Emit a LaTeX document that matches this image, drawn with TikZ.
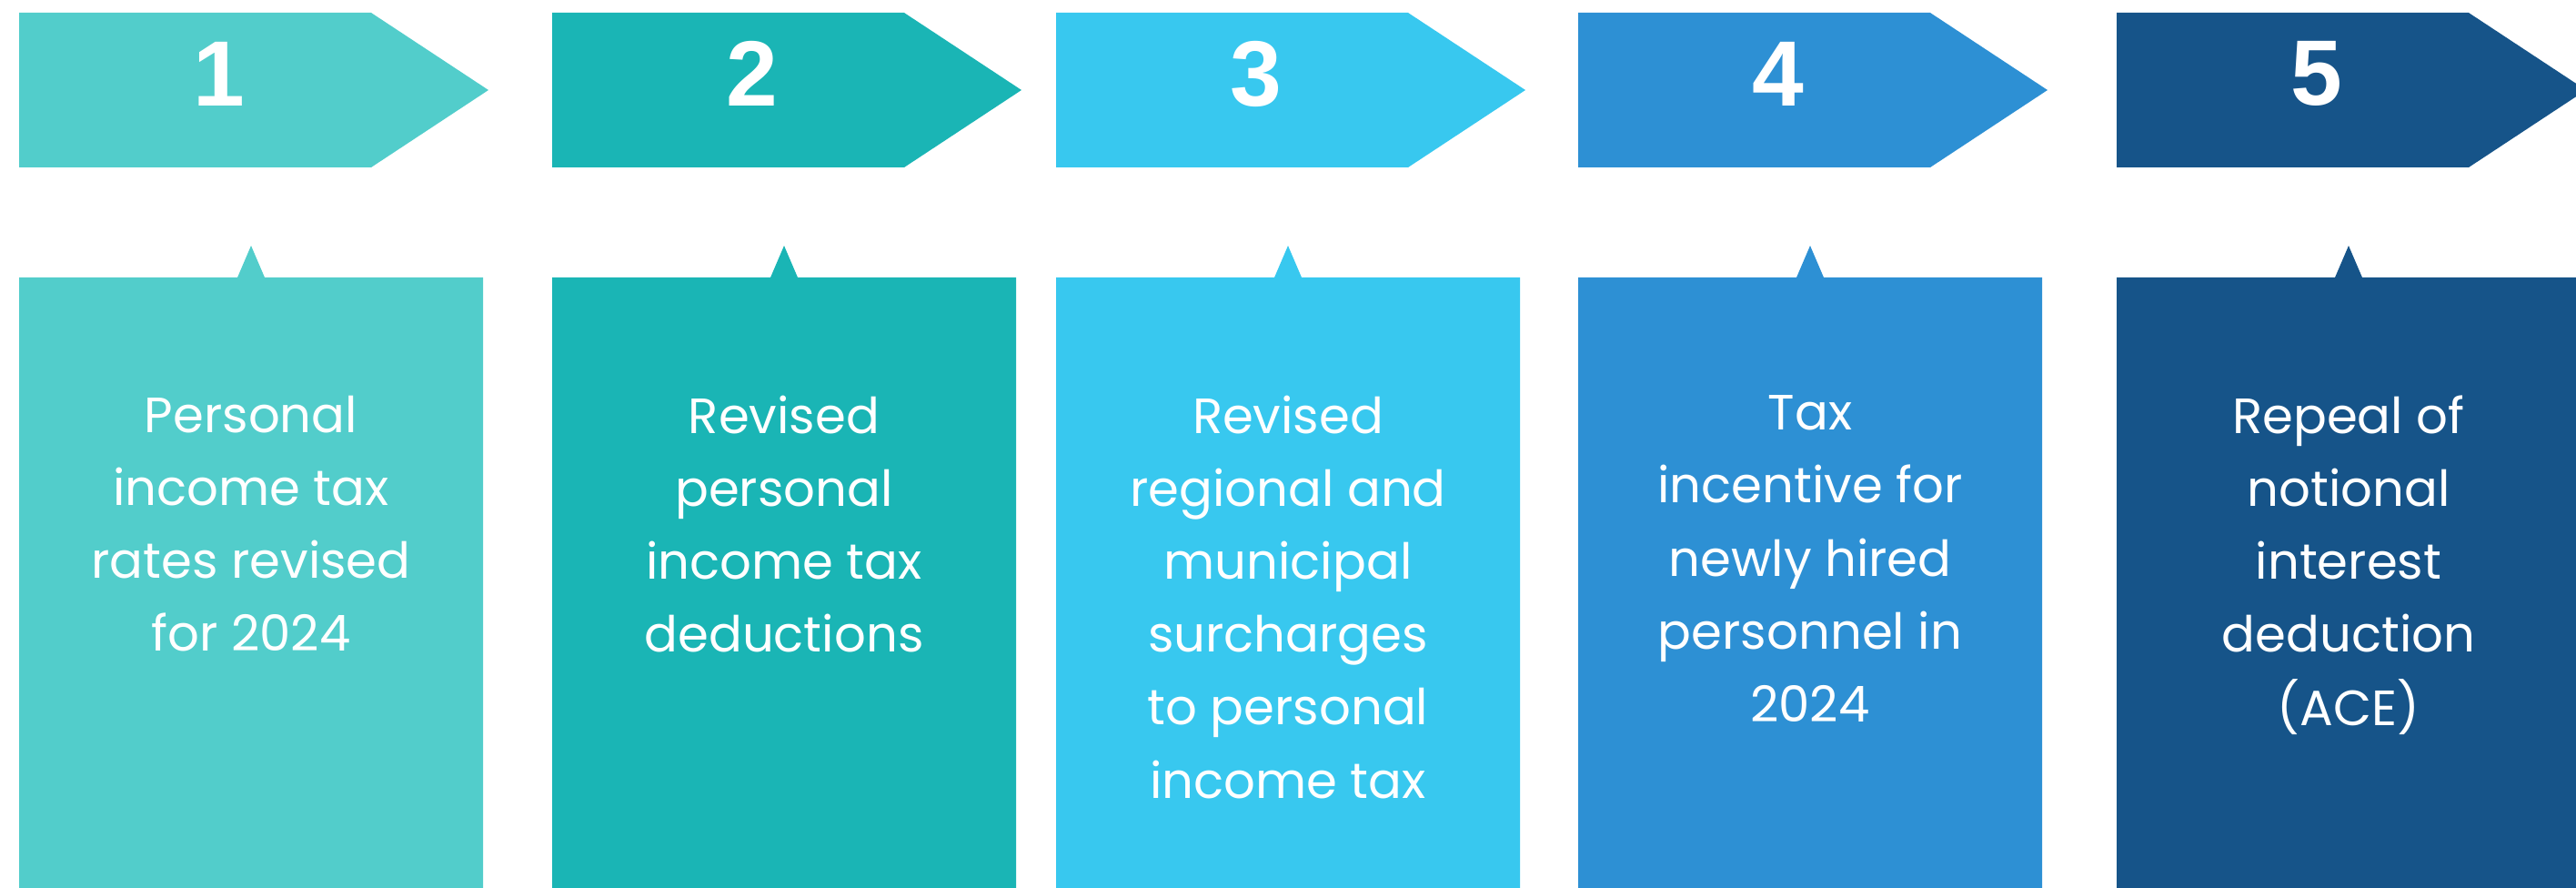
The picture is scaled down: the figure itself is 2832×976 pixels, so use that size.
\documentclass[tikz,border=0pt]{standalone}
\usepackage{fontspec}
\setmainfont{Poppins}
\newfontfamily\numfont{Liberation Sans}
\usepackage{tikz}
\definecolor{stepone}{HTML}{52CDCB}
\definecolor{steptwo}{HTML}{1AB5B5}
\definecolor{stepthree}{HTML}{38C8EF}
\definecolor{stepfour}{HTML}{2D90D4}
\definecolor{stepfive}{HTML}{165489}
\tikzstyle{number} = [text=white, inner sep=0pt, font=\numfont\bfseries\fontsize{29}{29}\selectfont]
\tikzstyle{detail} = [text=white, inner sep=0pt, anchor=north, align=center, font=\fontsize{15.5}{22.8}\selectfont]

\begin{document}
\begin{tikzpicture}[x=0.01cm, y=-0.01cm]
\useasboundingbox (0,0) rectangle (2832,976);
% header arrows
\fill[stepone] (21,14) -- (408,14) -- (537,99) -- (408,184) -- (21,184) -- cycle;
\fill[steptwo] (607,14) -- (994,14) -- (1123,99) -- (994,184) -- (607,184) -- cycle;
\fill[stepthree] (1161,14) -- (1548,14) -- (1677,99) -- (1548,184) -- (1161,184) -- cycle;
\fill[stepfour] (1735,14) -- (2122,14) -- (2251,99) -- (2122,184) -- (1735,184) -- cycle;
\fill[stepfive] (2327,14) -- (2714,14) -- (2843,99) -- (2714,184) -- (2327,184) -- cycle;
\node (one) [number] at (241,81) {1};
\node (two) [number] at (827,81) {2};
\node (three) [number] at (1381,81) {3};
\node (four) [number] at (1955,81) {4};
\node (five) [number] at (2547,81) {5};
% detail boxes
\fill[stepone] (21,305) -- (261,305) -- (276,270) -- (291,305) -- (531,305) -- (531,976) -- (21,976) -- cycle;
\fill[steptwo] (607,305) -- (847,305) -- (862,270) -- (877,305) -- (1117,305) -- (1117,976) -- (607,976) -- cycle;
\fill[stepthree] (1161,305) -- (1401,305) -- (1416,270) -- (1431,305) -- (1671,305) -- (1671,976) -- (1161,976) -- cycle;
\fill[stepfour] (1735,305) -- (1975,305) -- (1990,270) -- (2005,305) -- (2245,305) -- (2245,976) -- (1735,976) -- cycle;
\fill[stepfive] (2327,305) -- (2567,305) -- (2582,270) -- (2597,305) -- (2837,305) -- (2837,976) -- (2327,976) -- cycle;
\node (rates) [detail] at (276,434) {Personal\\income tax\\rates revised\\for 2024};
\node (deductions) [detail] at (862,434) {Revised\\personal\\income tax\\deductions};
\node (surcharges) [detail] at (1416,434) {Revised\\regional and\\municipal\\surcharges\\to personal\\income tax};
\node (incentive) [detail] at (1990,434) {Tax\\incentive for\\newly hired\\personnel in\\2024};
\node (repeal) [detail] at (2582,434) {Repeal of\\notional\\interest\\deduction\\(ACE)};
\end{tikzpicture}
\end{document}
